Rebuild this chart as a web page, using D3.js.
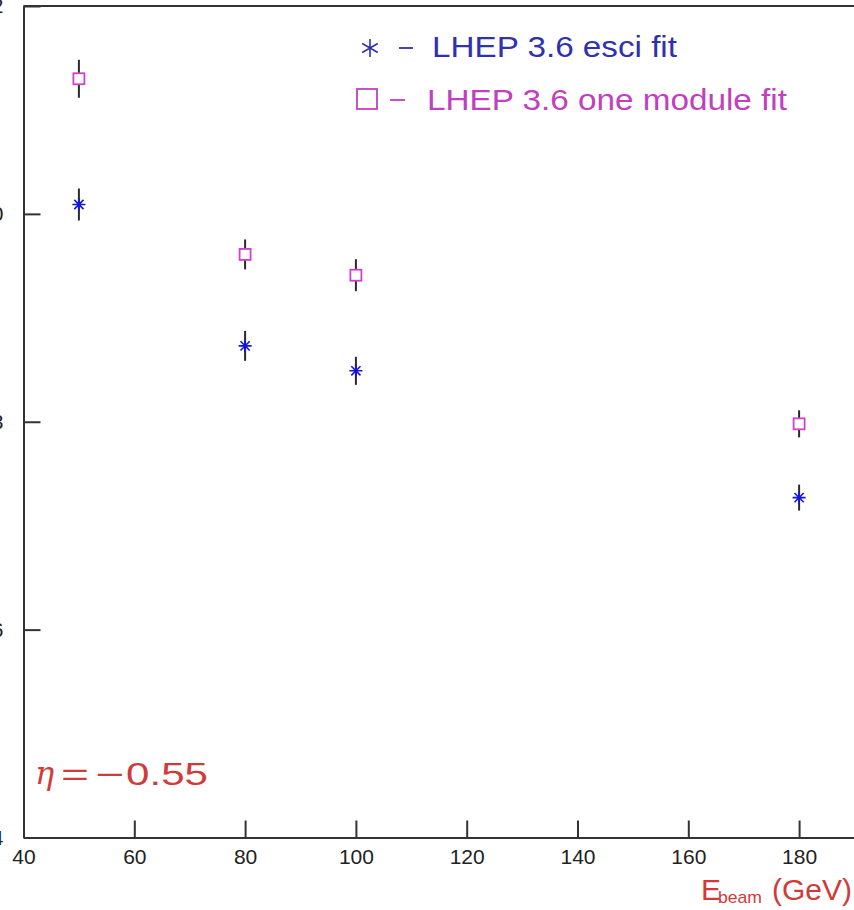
<!DOCTYPE html>
<html>
<head>
<meta charset="utf-8">
<script src="https://cdn.jsdelivr.net/npm/d3@7"></script>
<style>
  html, body { margin: 0; padding: 0; background: #fff; overflow: hidden; }
  svg { display: block; }
</style>
</head>
<body>
<svg id="chart" width="854" height="910"></svg>
<script>
// ---- data ----
const energies = [50, 80, 100, 180];
const esciValues = [1.0009, 0.9873, 0.9849, 0.9727];
const esciErrors = [0.00154, 0.00144, 0.00135, 0.00125];
const oneModValues = [1.0130, 0.9961, 0.9941, 0.9798];
const oneModErrors = [0.00183, 0.00144, 0.00154, 0.0013];
const xTicks = [40, 60, 80, 100, 120, 140, 160, 180];
const yTicks = [0.94, 0.96, 0.98, 1.00, 1.02];
const yTickLabels = ["0.94", "0.96", "0.98", "1.00", "1.02"];
const legendLabels = ["LHEP 3.6 esci fit", "LHEP 3.6 one module fit"];
const etaValue = "0.55";

const svg = d3.select("#chart");
const x = d3.scaleLinear().domain([40, 200]).range([23.5, 23.5 + 8 * 110.8]);
const y = d3.scaleLinear().domain([0.94, 1.02]).range([837.5, 6]);

const axisColor = "#333";
const blue = "#1414e0";
const magenta = "#d040d0";
const red = "#d23a3a";
const font = "Liberation Sans, Arial, sans-serif";

// top frame line
svg.append("line").attr("x1", x(40)).attr("x2", 854).attr("y1", y(1.02)).attr("y2", y(1.02))
  .attr("stroke", axisColor).attr("stroke-width", 2);

// bottom axis
const xAxis = d3.axisBottom(x).tickValues(xTicks).tickSize(0).tickFormat(d3.format("d"));
const gx = svg.append("g").attr("transform", `translate(0,${y(0.94)})`).call(xAxis);
gx.select(".domain").attr("stroke", axisColor).attr("stroke-width", 2);
gx.selectAll(".tick text").attr("font-family", font)
  .attr("font-size", 21).attr("fill", "#222").attr("dy", 0).attr("y", 26);
gx.selectAll(".tick").append("line").attr("y1", 0).attr("y2", -17)
  .attr("stroke", axisColor).attr("stroke-width", 2);

// left axis
const yAxis = d3.axisLeft(y).tickValues(yTicks).tickSize(0)
  .tickFormat((d, i) => yTickLabels[i]);
const gy = svg.append("g").attr("transform", `translate(${x(40)},0)`).call(yAxis);
gy.select(".domain").attr("stroke", axisColor).attr("stroke-width", 2);
gy.selectAll(".tick text").attr("font-family", font)
  .attr("font-size", 21).attr("fill", "#222").attr("x", -20);
gy.selectAll(".tick").append("line").attr("x1", 0).attr("x2", 17)
  .attr("stroke", axisColor).attr("stroke-width", 2);

// error bars
function errorBars(vals, errs) {
  svg.append("g").selectAll("line").data(energies).join("line")
    .attr("x1", d => x(d)).attr("x2", d => x(d))
    .attr("y1", (d, i) => y(vals[i] + errs[i]))
    .attr("y2", (d, i) => y(vals[i] - errs[i]))
    .attr("stroke", "#2a2a2a").attr("stroke-width", 2);
}
errorBars(esciValues, esciErrors);
errorBars(oneModValues, oneModErrors);

function starPath(r) {
  const p = d3.path();
  const a = r * Math.SQRT1_2;
  p.moveTo(-r, 0); p.lineTo(r, 0);
  p.moveTo(0, -r); p.lineTo(0, r);
  p.moveTo(-a, -a); p.lineTo(a, a);
  p.moveTo(-a, a); p.lineTo(a, -a);
  return p.toString();
}
function star6Path(r) {
  const p = d3.path();
  for (let k = 0; k < 3; k++) {
    const ang = Math.PI / 2 + k * Math.PI / 3;
    p.moveTo(-r * Math.cos(ang), -r * Math.sin(ang));
    p.lineTo(r * Math.cos(ang), r * Math.sin(ang));
  }
  return p.toString();
}

svg.append("g").selectAll("path").data(energies).join("path")
  .attr("transform", (d, i) => `translate(${x(d)},${y(esciValues[i])})`)
  .attr("d", starPath(6.5)).attr("stroke", blue).attr("stroke-width", 1.6).attr("fill", "none");

svg.append("g").selectAll("rect").data(energies).join("rect")
  .attr("x", d => x(d) - 5.5).attr("y", (d, i) => y(oneModValues[i]) - 5.5)
  .attr("width", 11).attr("height", 11)
  .attr("fill", "#fff").attr("stroke", magenta).attr("stroke-width", 1.8);

// legend
svg.append("path").attr("transform", "translate(370,48)").attr("d", star6Path(9))
  .attr("stroke", "#3030b0").attr("stroke-width", 1.6).attr("fill", "none");
svg.append("line").attr("x1", 399).attr("x2", 413).attr("y1", 48).attr("y2", 48)
  .attr("stroke", "#3030b0").attr("stroke-width", 1.8);
svg.append("text").attr("x", 432).attr("y", 57).attr("font-family", font).attr("font-size", 29)
  .attr("fill", "#3030b0").attr("textLength", 245).attr("lengthAdjust", "spacingAndGlyphs").text(legendLabels[0]);

svg.append("rect").attr("x", 357).attr("y", 89).attr("width", 20).attr("height", 20)
  .attr("fill", "none").attr("stroke", "#c040c0").attr("stroke-width", 1.8);
svg.append("line").attr("x1", 390).attr("x2", 405).attr("y1", 100).attr("y2", 100)
  .attr("stroke", "#c040c0").attr("stroke-width", 1.8);
svg.append("text").attr("x", 427).attr("y", 110).attr("font-family", font).attr("font-size", 29)
  .attr("fill", "#c040c0").attr("textLength", 360).attr("lengthAdjust", "spacingAndGlyphs").text(legendLabels[1]);

// eta label
svg.append("text").attr("x", 35).attr("y", 784).attr("font-family", "DejaVu Serif, serif")
  .attr("font-style", "italic").attr("font-size", 32).attr("fill", red).text("\u03b7");
svg.append("text").attr("x", 61).attr("y", 785).attr("font-family", font).attr("font-size", 31)
  .attr("fill", red).attr("textLength", 28).attr("lengthAdjust", "spacingAndGlyphs").text("=");
svg.append("text").attr("x", 95).attr("y", 785).attr("font-family", font).attr("font-size", 31)
  .attr("fill", red).attr("textLength", 29).attr("lengthAdjust", "spacingAndGlyphs").text("\u2212");
svg.append("text").attr("x", 126).attr("y", 785).attr("font-family", font).attr("font-size", 31)
  .attr("fill", red).attr("textLength", 82).attr("lengthAdjust", "spacingAndGlyphs").text(etaValue);

// x axis title
svg.append("text").attr("x", 701).attr("y", 900).attr("font-family", font).attr("font-size", 30)
  .attr("fill", red).text("E");
svg.append("text").attr("x", 718).attr("y", 903).attr("font-family", font).attr("font-size", 17)
  .attr("fill", red).attr("textLength", 44).attr("lengthAdjust", "spacingAndGlyphs").text("beam");
svg.append("text").attr("x", 772).attr("y", 900).attr("font-family", font).attr("font-size", 30)
  .attr("fill", red).attr("textLength", 80).attr("lengthAdjust", "spacingAndGlyphs").text("(GeV)");
</script>
</body>
</html>
